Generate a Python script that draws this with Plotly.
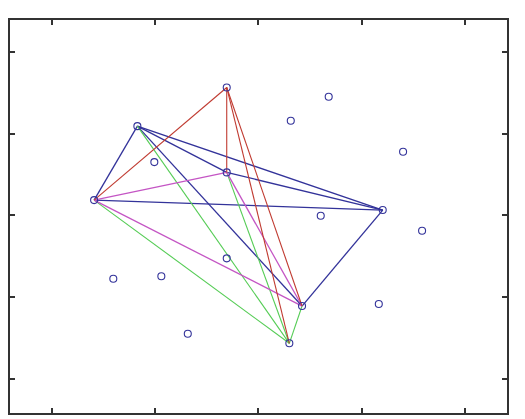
import plotly.graph_objects as go

# Point coordinates (data units)
point_names = ["A", "B", "C", "D", "E", "F", "G",
               "P1", "P2", "P3", "P4", "P5", "P6", "P7", "P8", "P9", "P10", "P11"]
point_x = [2.694, 1.829, 1.410, 2.694, 4.204, 3.423, 3.300,
           3.681, 3.314, 4.401, 1.993, 3.604, 4.585, 2.694, 1.596, 2.061, 4.166, 2.317]
point_y = [4.564, 4.091, 3.186, 3.525, 3.064, 1.889, 1.433,
           4.450, 4.156, 3.777, 3.651, 2.994, 2.810, 2.473, 2.223, 2.253, 1.914, 1.550]

# Edges per colour (pairs of point names)
red_edges = [("A", "C"), ("A", "D"), ("A", "F"), ("A", "G")]
blue_edges = [("B", "C"), ("B", "E"), ("B", "D"), ("D", "E"), ("C", "E"), ("B", "F"), ("E", "F")]
green_edges = [("B", "G"), ("C", "G"), ("D", "G"), ("F", "G")]
magenta_edges = [("C", "D"), ("C", "F"), ("D", "F")]

x_ticks = [1, 2, 3, 4, 5]
y_ticks = [1, 2, 3, 4, 5]

idx = {n: i for i, n in enumerate(point_names)}


def edge_coords(edges):
    xs, ys = [], []
    for a, b in edges:
        xs += [point_x[idx[a]], point_x[idx[b]], None]
        ys += [point_y[idx[a]], point_y[idx[b]], None]
    return xs, ys


fig = go.Figure()
for edges, color, w in [(blue_edges, "#33339a", 1.3),
                        (green_edges, "#55cc55", 1.1),
                        (magenta_edges, "#c455c4", 1.3),
                        (red_edges, "#c03a30", 1.1)]:
    ex, ey = edge_coords(edges)
    fig.add_trace(go.Scatter(x=ex, y=ey, mode="lines",
                             line=dict(color=color, width=w),
                             hoverinfo="skip", showlegend=False))

fig.add_trace(go.Scatter(x=point_x, y=point_y, mode="markers",
                         marker=dict(symbol="circle-open", size=7,
                                     color="#33339a", line=dict(width=1.1)),
                         showlegend=False))

axis_common = dict(showgrid=False, zeroline=False, showline=True, mirror="ticks",
                   linecolor="#333333", linewidth=1.5, ticks="inside", ticklen=5,
                   tickwidth=1.5, tickcolor="#333333", showticklabels=False)

fig.update_layout(
    width=525, height=419, autosize=False,
    margin=dict(l=10, r=18, t=20, b=6),
    paper_bgcolor="white", plot_bgcolor="white",
    xaxis=dict(range=[0.596, 5.407], tickvals=x_ticks, **axis_common),
    yaxis=dict(range=[0.58, 5.39], tickvals=y_ticks, **axis_common),
)

fig.write_html("out.html", config={"displayModeBar": False},
               post_script="document.body.style.margin='0';document.body.style.overflow='hidden';")
